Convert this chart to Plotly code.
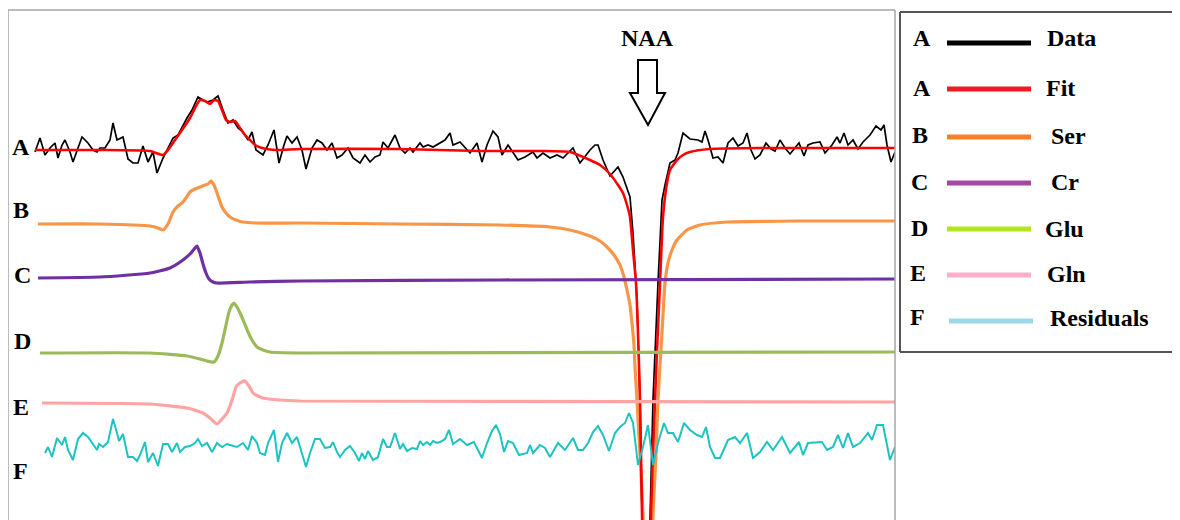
import plotly.graph_objects as go

# ---------------- data (x = spectral point, values = intensity relative to each trace's baseline) ----
data_x = [35, 40, 45, 50, 55, 58, 62, 65, 70, 73, 78, 82, 88, 93, 97, 100, 105, 110, 113, 117, 123, 128, 133,
          138, 143, 148, 153, 157, 163, 167, 173, 178, 183, 187, 192, 198, 203, 207, 213, 218, 223, 228, 233,
          238, 243, 248, 252, 256, 263, 268, 274, 279, 284, 287, 292, 297, 302, 306, 312, 317, 322, 327, 332,
          337, 342, 348, 353, 360, 365, 370, 375, 380, 383, 388, 395, 400, 405, 410, 413, 420, 423, 428, 433,
          440, 445, 450, 453, 460, 465, 470, 477, 482, 487, 493, 498, 502, 508, 513, 518, 525, 533, 537, 543,
          550, 557, 563, 568, 573, 577, 580, 590, 595, 598, 603, 610, 618, 623, 625, 628, 630, 633, 637, 640,
          643, 647, 650, 653, 658, 662, 665, 667, 670, 675, 678, 683, 690, 698, 702, 705, 708, 713, 718, 723,
          728, 733, 738, 743, 747, 751, 755, 760, 766, 771, 775, 780, 785, 790, 795, 799, 804, 808, 813, 820,
          825, 832, 837, 840, 844, 848, 853, 858, 863, 870, 876, 881, 884, 887, 891, 895]
data_y = [-2, 12, -5, 2, 7, -8, 5, 10, -2, -12, 2, 13, 7, 0, -2, 2, 2, 10, 27, 10, 13, -9, -13,
          -13, 4, -12, -2, -23, -8, 0, 12, 15, 25, 32, 40, 53, 50, 48, 50, 54, 40, 27, 30,
          22, 18, 10, 18, 0, -5, 5, 20, -13, 5, 14, 7, 13, 0, -19, 2, 10, 7, 0, 7,
          -8, -5, 2, -8, -13, -5, -12, -7, -5, 8, 2, 15, 2, -3, 2, -2, 7, 3, 5, 3,
          7, 10, 17, 5, 8, 2, -3, 7, -12, 5, 19, 13, -5, 5, -2, -10, -7, -2, -8, -3,
          -8, -5, -8, -3, 2, -7, -13, 0, 5, 5, -10, -26, -17, -27, -33, -40, -47, -83, -150, -250,
          -370, -650, -370, -250, -133, -50, -35, -27, -13, -10, -3, 17, 11, 10, 8, 19, 10, -8, -7, -13,
          7, 12, 4, 7, 17, 0, -9, -5, 7, 1, -1, 10, 2, -4, 2, 7, -6, 5, 7, 8,
          -3, 5, 13, 7, 17, 5, 10, 1, 8, 15, 24, 20, 25, 5, -12, -2]

fit_x = [35, 100, 150, 163, 168, 175, 182, 190, 195, 200, 205, 210, 214, 218, 222, 226, 230, 235, 240, 245,
         250, 255, 262, 275, 300, 400, 480, 540, 570, 590, 600, 610, 618, 623, 627, 630, 633, 636, 638, 640,
         642, 645, 647, 649, 651, 655, 657, 660, 663, 667, 670, 677, 683, 690, 710, 760, 895]
fit_y = [0, 0, -1, -5, 0, 10, 20, 32, 42, 50, 49, 46, 50, 49, 40, 30, 28, 29, 22, 15,
         10, 5, 2, 0, 1, 1, -1, -1, -2, -10, -15, -24, -35, -43, -55, -67, -100, -133, -183, -250,
         -363, -550, -650, -550, -363, -250, -200, -133, -67, -33, -20, -10, -5, -2, 1, 2, 2]

ser_x = [38, 100, 150, 158, 163, 168, 173, 178, 182, 186, 190, 195, 200, 205, 208, 211, 214, 217, 222, 226,
         230, 236, 243, 255, 300, 400, 500, 550, 570, 590, 600, 607, 614, 620, 624, 627, 630, 632, 634, 635,
         637, 640, 643, 648, 653, 656, 658, 660, 662, 665, 668, 672, 677, 687, 700, 727, 800, 895]
ser_y = [0, 0, -2, -4, -6, 0, 12, 18, 21, 26, 32, 35, 37, 39, 40, 43, 39, 31, 17, 11,
         7, 4, 2, 1, 1, 0, -1, -3, -6, -12, -17, -23, -31, -41, -53, -66, -81, -99, -121, -143,
         -176, -231, -291, -576, -291, -231, -176, -141, -109, -59, -39, -26, -16, -6, -1, 2, 3, 3]

cr_x = [38, 100, 150, 170, 183, 190, 195, 197, 200, 203, 206, 209, 213, 217, 250, 300, 500, 895]
cr_y = [1, 2, 6, 11, 19, 25, 31, 33, 26, 15, 6, 0, -3, -4, -3, -2, -1, 0]

glu_x = [40, 150, 187, 200, 207, 214, 218, 222, 226, 229, 232, 234, 237, 240, 244, 248, 252, 257, 263, 270,
         300, 895]
glu_y = [-1, -1, -4, -7, -9, -10, -4, 9, 27, 40, 47, 49, 45, 39, 30, 20, 12, 5, 2, 0, -1, 0]

gln_x = [42, 150, 187, 203, 210, 217, 222, 227, 230, 233, 236, 240, 245, 249, 253, 258, 263, 280, 300, 895]
gln_y = [-1, -2, -6, -11, -16, -22, -17, -11, -4, 5, 15, 19, 21, 16, 9, 6, 4, 2, 1, 0]

res_x = [45, 48, 52, 57, 62, 65, 68, 73, 78, 83, 88, 93, 97, 99, 103, 108, 113, 117, 119, 123, 128, 133,
         137, 140, 145, 148, 153, 158, 163, 168, 172, 177, 180, 185, 190, 195, 198, 202, 207, 212, 217, 222,
         227, 230, 237, 243, 248, 252, 257, 260, 265, 268, 274, 278, 282, 287, 292, 297, 302, 306, 310, 315,
         320, 325, 330, 333, 337, 340, 345, 350, 355, 359, 362, 365, 368, 373, 378, 383, 387, 390, 395, 400,
         403, 407, 412, 417, 420, 423, 427, 430, 433, 437, 440, 445, 449, 453, 460, 467, 474, 478, 482, 487,
         492, 496, 500, 504, 508, 513, 519, 527, 530, 533, 540, 545, 550, 558, 565, 573, 578, 583, 588, 593,
         598, 603, 606, 609, 615, 620, 625, 629, 633, 638, 643, 648, 653, 658, 664, 668, 673, 678, 684, 690,
         697, 702, 706, 710, 715, 720, 728, 735, 740, 747, 753, 760, 767, 773, 782, 790, 799, 803, 808, 817,
         822, 827, 833, 838, 843, 848, 853, 860, 868, 872, 877, 883, 890, 895]
res_y = [-8, -2, -12, 7, 0, 8, -5, -15, 6, 12, 8, 0, -5, 1, -2, 3, 26, 12, 4, 11, -12, -12,
         -16, -10, 3, -17, -8, -21, 1, 1, -7, 2, -7, -2, -1, 2, 6, -1, 2, -7, 2, -2,
         1, 0, -2, 2, -5, 9, 2, -8, -10, 2, 15, -17, 2, 12, 2, 8, -8, -22, -8, 6,
         6, -3, -2, 3, -7, -12, -5, -1, -8, -16, -8, -14, -6, -15, -12, 6, -2, -2, 12, -4,
         1, -6, -3, -4, 4, 0, 3, 0, 4, 2, 3, 6, 15, 1, 6, 0, 3, -5, -13, 2,
         14, 20, 11, -7, 4, 2, -10, -8, 0, -8, 0, -3, -12, 2, -5, 7, -5, -5, 2, 13,
         19, 10, 2, -6, 12, 18, 22, 32, 22, -20, -2, 20, -20, 2, 22, 12, 12, 3, 22, 15,
         10, 8, 18, -2, -13, -13, 5, 8, 2, 12, -13, -7, 3, -5, 8, -8, 3, -10, 2, 3,
         3, -5, -2, 10, -3, 12, -2, 2, 12, 5, 20, 20, -15, -2]

row_letters = ["A", "B", "C", "D", "E", "F"]
legend_letters = ["A", "A", "B", "C", "D", "E", "F"]
legend_names = ["Data", "Fit", "Ser", "Cr", "Glu", "Gln", "Residuals"]
peak_label = "NAA"

# ---------------- layout constants (pixels of the 1180x520 window) ----------------
W, H = 1180, 520
BODY = 8                          # default page margin that offsets the figure
PL, PR, PT = 8, 895, 10           # plot area in window pixels: left, right, top (bottom = window bottom)
OFF = {"A": 370, "B": 296, "C": 241, "D": 168, "E": 118, "F": 75}   # stacking offsets (axis units)
FONT = "Liberation Serif, Times New Roman, serif"


def pxx(p):
    return (p - PL) / (PR - PL)


def pxy(p):
    return (H - p) / (H - PT)


def shifted(vals, key):
    return [v + OFF[key] for v in vals]


fig = go.Figure()
traces = [
    (ser_x, shifted(ser_y, "B"), "#f79646", 3.2, "spline"),
    (data_x, shifted(data_y, "A"), "#000000", 1.7, "linear"),
    (fit_x, shifted(fit_y, "A"), "#ff0000", 2.6, "spline"),
    (cr_x, shifted(cr_y, "C"), "#7030a0", 3.2, "spline"),
    (glu_x, shifted(glu_y, "D"), "#9bbb59", 3.2, "spline"),
    (gln_x, shifted(gln_y, "E"), "#ffa3a3", 3.2, "spline"),
    (res_x, shifted(res_y, "F"), "#1cc3c3", 2.0, "linear"),
]
for xs, ys, col, w, shp in traces:
    line = dict(color=col, width=w, shape=shp)
    if shp == "spline":
        line["smoothing"] = 0.5
    fig.add_trace(go.Scatter(x=xs, y=ys, mode="lines", line=line, showlegend=False, hoverinfo="skip"))

shapes = []
frame_col = "#a6a6a6"
for x0, x1, y0, y1 in [(0, 0, 0, 1), (0, 1, 1, 1), (1, 1, 0, 1)]:
    shapes.append(dict(type="line", xref="paper", yref="paper", x0=x0, x1=x1, y0=y0, y1=y1,
                       line=dict(color=frame_col, width=1.5)))

# NAA arrow (outline)
ax = [638, 657, 657, 665, 648, 630, 638]
ay = [60, 60, 93, 93, 125, 93, 93]
path = "M " + " L ".join(f"{pxx(a):.5f},{pxy(b):.5f}" for a, b in zip(ax, ay)) + " Z"
shapes.append(dict(type="path", xref="paper", yref="paper", path=path,
                   line=dict(color="black", width=2), fillcolor="white"))

# legend box: left, top and bottom sides (the right side runs off the window)
box_l, box_r, box_t, box_b = 900, 1200, 12, 352
box_line = dict(color="#555555", width=2)
shapes.append(dict(type="line", xref="paper", yref="paper", x0=pxx(box_l), x1=pxx(box_l),
                   y0=pxy(box_b), y1=pxy(box_t), line=box_line))
shapes.append(dict(type="line", xref="paper", yref="paper", x0=pxx(box_l), x1=pxx(box_r),
                   y0=pxy(box_t), y1=pxy(box_t), line=box_line))
shapes.append(dict(type="line", xref="paper", yref="paper", x0=pxx(box_l), x1=pxx(box_r),
                   y0=pxy(box_b), y1=pxy(box_b), line=box_line))
leg_cols = ["#000000", "#ed1c24", "#ff7f27", "#a349a4", "#b5e61d", "#ffaec9", "#99d9ea"]
leg_line_y = [43, 89, 137, 183, 229, 275, 321]
leg_letter_y = [38, 88, 135, 182, 228, 273, 317]
leg_letter_x = [922, 922, 920, 920, 920, 918, 917]
leg_text_x = [1045, 1044, 1049, 1049, 1043, 1045, 1048]
leg_text_y = [38, 88, 136, 182, 229, 274, 318]
for i, col in enumerate(leg_cols):
    x0, x1 = (947, 1031) if i < 6 else (949, 1033)
    shapes.append(dict(type="line", xref="paper", yref="paper", x0=pxx(x0), x1=pxx(x1),
                       y0=pxy(leg_line_y[i]), y1=pxy(leg_line_y[i]), line=dict(color=col, width=5)))

annotations = []
row_x = [21, 21, 22, 22, 21, 20]
row_y = [147, 210, 275, 341, 407, 471]
for t, xx, yy in zip(row_letters, row_x, row_y):
    annotations.append(dict(text=f"<b>{t}</b>", xref="paper", yref="paper", x=pxx(xx), y=pxy(yy),
                            xanchor="center", yanchor="middle", showarrow=False,
                            font=dict(family=FONT, size=24, color="black")))
annotations.append(dict(text=f"<b>{peak_label}</b>", xref="paper", yref="paper", x=pxx(647), y=pxy(38),
                        xanchor="center", yanchor="middle", showarrow=False,
                        font=dict(family=FONT, size=24, color="black")))
for i in range(len(legend_names)):
    annotations.append(dict(text=f"<b>{legend_letters[i]}</b>", xref="paper", yref="paper",
                            x=pxx(leg_letter_x[i]), y=pxy(leg_letter_y[i]), xanchor="center",
                            yanchor="middle", showarrow=False,
                            font=dict(family=FONT, size=24, color="black")))
    annotations.append(dict(text=f"<b>{legend_names[i]}</b>", xref="paper", yref="paper",
                            x=pxx(leg_text_x[i]), y=pxy(leg_text_y[i]), xanchor="left",
                            yanchor="middle", showarrow=False,
                            font=dict(family=FONT, size=24, color="black")))

# figure origin sits at (BODY, BODY) in the window, so margins are expressed relative to that
fig.update_layout(
    width=W, height=H,
    margin=dict(l=PL - BODY, r=W - (PR - BODY), t=PT - BODY, b=BODY, pad=0),
    paper_bgcolor="white", plot_bgcolor="white",
    xaxis=dict(range=[PL, PR], visible=False, fixedrange=True),
    yaxis=dict(range=[0, H - PT], visible=False, fixedrange=True),
    shapes=shapes, annotations=annotations, showlegend=False,
)
fig.write_html("out.html", config={"displayModeBar": False})
